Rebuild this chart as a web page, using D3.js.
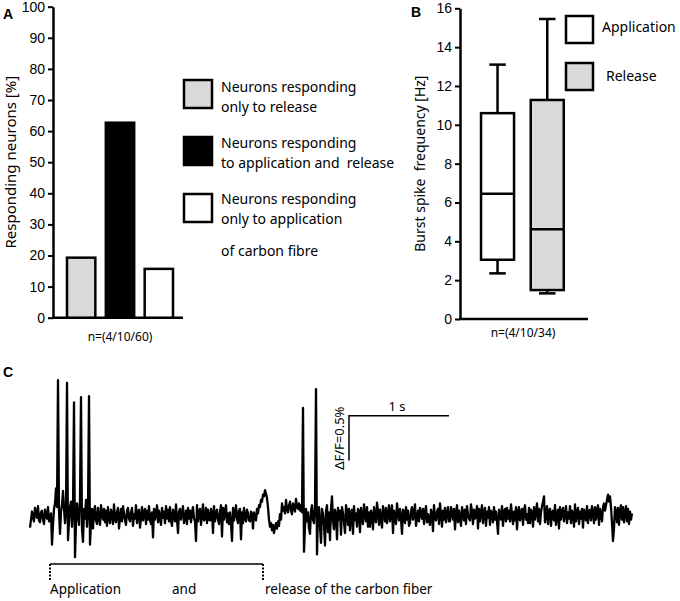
<!DOCTYPE html>
<html>
<head>
<meta charset="utf-8">
<script src="https://cdn.jsdelivr.net/npm/d3@7"></script>
<style>
  body { margin: 0; background: #fff; }
  svg { display: block; }
  .lbl { font-family: "Noto Sans", sans-serif; fill: #000; white-space: pre; }
  .tick text { font-family: "Liberation Sans", Arial, sans-serif; font-size: 14px; fill: #000; }
  .panel { font-family: "Liberation Sans", Arial, sans-serif; font-weight: bold; font-size: 14px; }
</style>
</head>
<body>
<script>
  // Panel A: share of responding neurons
  const groupsA = ['release', 'both', 'application'];
  const percentA = [19.3, 62.7, 15.7];
  const fillsA = ['#d9d9d9', '#000000', '#ffffff'];
  const legendA = [
    ['Neurons responding', 'only to release'],
    ['Neurons responding', 'to application and  release'],
    ['Neurons responding', 'only to application']
  ];
  const ticksA = d3.range(0, 101, 10);

  // Panel B: burst spike frequency boxes (Hz)
  const groupsB = ['Application', 'Release'];
  const fillsB = ['#ffffff', '#d9d9d9'];
  const whiskerLowB = [2.35, 1.32];
  const q1B = [3.05, 1.49];
  const medianB = [6.45, 4.62];
  const q3B = [10.6, 11.28];
  const whiskerHighB = [13.1, 15.45];
  const ticksB = d3.range(0, 17, 2);

  // Panel C: calcium trace, dF/F in 0.01 % steps, sampled every 0.01 s
  const sampleStep = 0.01;
  const trace = [
    -13, -4, 5, -2, -6, 9, 3, -2, 11, -5, -7, 4, 6, -4, -9, 7, 2, -3, 10, -6,
    -4, 3, -32, -10, 8, 14, 31, 10, 152, 6, -20, 5, 12, 28, 9, -8, 4, 149, -27, -6,
    10, 16, -12, 6, 127, -46, -8, 14, 3, -10, 18, 133, -15, -29, 8, -3, 18, -12, 5, 134,
    -32, -6, 8, -14, 4, 11, -5, -9, 9, -2, -10, 12, 3, -4, 8, -7, 6, -11, 10, -3,
    -8, 7, 2, -9, 13, -4, -7, 5, 9, -14, -2, 8, -6, 11, 3, -5, -10, 6, 9, -3,
    -6, 4, 9, -11, 2, -3, 12, -8, 5, 7, -13, -2, 10, -5, 3, 8, -9, 6, -4, 11,
    -5, -9, 4, -24, 8, -4, 2, 12, -7, 6, -3, -10, 9, -2, 5, -8, 11, -3, 7, -6,
    10, -5, -11, 7, 2, -6, 13, -4, -19, 5, 8, -4, 3, 11, -8, -2, 6, -9, 9, -3,
    6, -7, 4, 10, -3, -6, -28, 12, -6, 5, 8, -10, 2, 13, -5, -3, 9, -8, 7, -4,
    -5, 8, 3, -19, 11, -6, 2, 7, -4, -9, 5, 12, -23, 9, -4, 6, 12, -7, 3, -9,
    4, -9, -28, 9, -5, 3, 12, -3, -8, 6, 8, -26, 4, -8, 9, -2, -6, 7, 3, -5,
    -6, 5, 2, -14, 4, -2, -5, 8, 3, 12, 10, 18, 16, 24, 22, 29, 25, 20, 10, -4,
    -12, -8, -16, -10, -19, -13, -8, -14, -6, -11, 2, -4, 14, 6, 10, 3, 18, 8, 4, 12,
    16, 6, 2, 14, 9, 5, 19, 11, 8, 14, 6, 12, 4, 121, -40, -12, 8, -6, 4, -14,
    -20, 6, 12, -4, -8, 10, 142, -43, 4, 10, -12, -30, 8, 2, -10, -33, 6, 12, -18, 4,
    -27, 8, 22, -6, -15, 7, 2, -26, 9, -4, 6, -21, 10, 3, -7, -19, 12, 5, -10, 8,
    -16, 4, 7, -20, 11, -5, 3, -12, 8, 5, -18, 9, -3, -9, 13, 2, -6, 10, -12, 4,
    -12, 6, 2, -15, 10, -4, -7, 15, 5, -10, 7, -3, -13, 11, 4, -6, 9, -8, 2, 12,
    -6, 3, 12, -19, 6, -2, -9, 14, 4, -5, 8, -3, -20, 7, 5, -8, 10, -4, 6, -11,
    -8, 5, 10, -4, 2, 13, -11, -3, 6, -6, 9, 3, -3, 8, -9, 4, 11, -7, 2, -5,
    -10, 7, 3, -17, 12, -2, -5, 5, 8, -9, 14, 2, -12, 6, -4, 9, -7, 3, 10, -6,
    -6, 10, 4, -4, 8, -15, 3, 12, -7, 6, -2, -11, 10, 4, -5, 7, -9, 11, 2, -3,
    -5, 13, 5, -9, 7, -3, 2, 11, -14, 8, -6, 4, 12, -8, 3, 9, -11, 5, -2, 10,
    -10, 6, 3, -7, 10, -4, 5, -6, -20, 7, 2, -4, 11, -11, 4, 8, -6, 9, -3, 6,
    -6, 13, 2, -9, 5, -5, 10, -15, 4, 10, -5, 3, 8, -10, 6, 12, -4, 2, -8, 9,
    -8, 7, 3, -12, 10, -4, 5, 14, -6, 8, -9, 4, 11, 16, 22, -7, 3, 11, -9, 6,
    8, -11, 4, 6, -5, 12, -10, 3, 7, -14, 10, -4, 5, 9, -6, 2, 11, -8, 4, -3,
    11, -8, 6, 2, -12, 13, -6, 4, 9, -9, 5, -3, 8, -13, 7, 2, -5, 11, -8, 6,
    7, -5, 11, 3, -8, 10, -4, 6, 12, -10, 8, 2, -6, 10, 14, 6, 12, 18, 24, 16,
    22, 10, -8, -28, -14, 10, 4, -7, 9, -10, 6, 12, -4, 10, -7, 3, 11, -6, 8, -9,
    5, -4, 3
  ];
  const bracketTimes = [0.2, 2.33];
  const bracketWords = ['Application', 'and', 'release of the carbon fiber'];
  const bracketWordTimes = [0.2, 1.42, 2.35];
  const scaleBarTime = 1;      // s
  const scaleBarDff = 0.5;     // %
  const scaleBarAt = [3.19, 0.62];

  const width = 680;
  const height = 601;

  const svg = d3.select('body')
          .append('svg')
          .attr('width', width)
          .attr('height', height);

  svg.append('rect').attr('width', width).attr('height', height).attr('fill', '#fff');

  // ---------- A ----------
  const yA = d3.scaleLinear().domain([0, 100]).range([317.7, 6.7]);
  const xA = d3.scaleBand().domain(groupsA).range([60, 180]).paddingInner(0.27).paddingOuter(0.18);

  const gA = svg.append('g');
  gA.append('g')
          .attr('transform', 'translate(53,0)')
          .call(d3.axisLeft(yA).tickValues(ticksA).tickSize(5).tickPadding(3).tickSizeOuter(0))
          .call(g => g.selectAll('line').attr('stroke-width', 2))
          .call(g => g.select('.domain').attr('stroke-width', 2.5));
  gA.append('line')
          .attr('x1', 52).attr('x2', 183)
          .attr('y1', yA(0)).attr('y2', yA(0))
          .attr('stroke', '#000').attr('stroke-width', 2.5);

  gA.selectAll('rect.bar')
          .data(groupsA)
          .enter()
          .append('rect')
          .attr('class', 'bar')
          .attr('x', d => xA(d))
          .attr('width', xA.bandwidth())
          .attr('y', (d, i) => yA(percentA[i]))
          .attr('height', (d, i) => yA(0) - yA(percentA[i]))
          .attr('fill', (d, i) => fillsA[i])
          .attr('stroke', '#000')
          .attr('stroke-width', 2.5);

  gA.append('text').attr('class', 'lbl')
          .attr('transform', `translate(16,${(yA(0) + yA(100)) / 2}) rotate(-90)`)
          .attr('text-anchor', 'middle')
          .attr('font-size', 15)
          .text('Responding neurons [%]');

  gA.append('text').attr('class', 'lbl')
          .attr('x', 120).attr('y', 341)
          .attr('text-anchor', 'middle')
          .attr('font-size', 12)
          .text('n=(4/10/60)');

  svg.append('text').attr('class', 'panel').attr('x', 3).attr('y', 19).text('A');

  const legA = svg.append('g');
  legA.selectAll('rect')
          .data(groupsA)
          .enter()
          .append('rect')
          .attr('x', 184)
          .attr('y', (d, i) => 80 + i * 57)
          .attr('width', 28)
          .attr('height', 28)
          .attr('fill', (d, i) => fillsA[i])
          .attr('stroke', '#000')
          .attr('stroke-width', 2.5);
  legA.selectAll('text')
          .data(legendA)
          .enter()
          .append('text')
          .attr('class', 'lbl')
          .attr('font-size', 14)
          .attr('x', 221)
          .attr('y', (d, i) => 92 + i * 56)
          .selectAll('tspan')
          .data(d => d)
          .enter()
          .append('tspan')
          .attr('x', 221)
          .attr('dy', (d, i) => i ? 20 : 0)
          .text(d => d);
  legA.append('text').attr('class', 'lbl')
          .attr('font-size', 14)
          .attr('x', 221).attr('y', 256)
          .text('of carbon fibre');

  // ---------- B ----------
  const yB = d3.scaleLinear().domain([0, 16]).range([319, 8.3]);
  const xB = d3.scaleBand().domain(groupsB).range([468.6, 576.2]).paddingInner(0.336).paddingOuter(0.25);

  const gB = svg.append('g');
  gB.append('g')
          .attr('transform', 'translate(460,0)')
          .call(d3.axisLeft(yB).tickValues(ticksB).tickSize(5).tickPadding(3).tickSizeOuter(0))
          .call(g => g.selectAll('line').attr('stroke-width', 2))
          .call(g => g.select('.domain').attr('stroke-width', 2.5));
  gB.append('line')
          .attr('x1', 459).attr('x2', 588)
          .attr('y1', yB(0)).attr('y2', yB(0))
          .attr('stroke', '#000').attr('stroke-width', 2.5);

  const box = gB.selectAll('g.box')
          .data(groupsB)
          .enter()
          .append('g')
          .attr('class', 'box');
  const cx = d => xB(d) + xB.bandwidth() / 2;
  const capHalf = xB.bandwidth() / 4;

  box.append('line')
          .attr('x1', cx).attr('x2', cx)
          .attr('y1', (d, i) => yB(whiskerHighB[i]))
          .attr('y2', (d, i) => yB(whiskerLowB[i]))
          .attr('stroke', '#000').attr('stroke-width', 2.5);
  [whiskerLowB, whiskerHighB].forEach(arr => {
    box.append('line')
            .attr('x1', d => cx(d) - capHalf).attr('x2', d => cx(d) + capHalf)
            .attr('y1', (d, i) => yB(arr[i])).attr('y2', (d, i) => yB(arr[i]))
            .attr('stroke', '#000').attr('stroke-width', 2.5);
  });
  box.append('rect')
          .attr('x', d => xB(d))
          .attr('width', xB.bandwidth())
          .attr('y', (d, i) => yB(q3B[i]))
          .attr('height', (d, i) => yB(q1B[i]) - yB(q3B[i]))
          .attr('fill', (d, i) => fillsB[i])
          .attr('stroke', '#000').attr('stroke-width', 2.5);
  box.append('line')
          .attr('x1', d => xB(d)).attr('x2', d => xB(d) + xB.bandwidth())
          .attr('y1', (d, i) => yB(medianB[i])).attr('y2', (d, i) => yB(medianB[i]))
          .attr('stroke', '#000').attr('stroke-width', 2.5);

  gB.append('text').attr('class', 'lbl')
          .attr('transform', `translate(425,${(yB(0) + yB(16)) / 2}) rotate(-90)`)
          .attr('text-anchor', 'middle')
          .attr('font-size', 14)
          .text('Burst spike  frequency [Hz]');
  gB.append('text').attr('class', 'lbl')
          .attr('x', 523).attr('y', 337)
          .attr('text-anchor', 'middle')
          .attr('font-size', 12)
          .text('n=(4/10/34)');

  svg.append('text').attr('class', 'panel').attr('x', 411).attr('y', 17).text('B');

  const legB = svg.append('g');
  legB.selectAll('rect')
          .data(groupsB)
          .enter()
          .append('rect')
          .attr('x', 566)
          .attr('y', (d, i) => 16 + i * 47)
          .attr('width', 27)
          .attr('height', 27)
          .attr('fill', (d, i) => fillsB[i])
          .attr('stroke', '#000').attr('stroke-width', 2.5);
  legB.selectAll('text')
          .data(groupsB)
          .enter()
          .append('text')
          .attr('class', 'lbl')
          .attr('font-size', 14)
          .attr('x', (d, i) => i ? 606 : 602)
          .attr('y', (d, i) => 32 + i * 49)
          .text(d => d);

  // ---------- C ----------
  const xC = d3.scaleLinear().domain([0, (trace.length - 1) * sampleStep]).range([30, 632]);
  const yC = d3.scaleLinear().domain([0, 1]).range([516, 426.6]);

  svg.append('text').attr('class', 'panel').attr('x', 3).attr('y', 377).text('C');

  svg.append('path')
          .datum(trace)
          .attr('d', d3.line().x((d, i) => xC(i * sampleStep)).y(d => yC(d / 100)))
          .attr('fill', 'none')
          .attr('stroke', '#000')
          .attr('stroke-width', 2.3)
          .attr('stroke-linejoin', 'round');

  // scale bars
  const sb = svg.append('g').attr('stroke', '#000').attr('stroke-width', 1.5).attr('fill', 'none');
  sb.append('path')
          .attr('d', `M${xC(scaleBarAt[0])},${yC(scaleBarAt[1])}V${yC(scaleBarAt[1] + scaleBarDff)}H${xC(scaleBarAt[0] + scaleBarTime)}`);
  svg.append('text').attr('class', 'lbl')
          .attr('x', (xC(scaleBarAt[0]) + xC(scaleBarAt[0] + scaleBarTime)) / 2 - 2)
          .attr('y', yC(scaleBarAt[1] + scaleBarDff) - 5)
          .attr('text-anchor', 'middle')
          .attr('font-size', 13)
          .text('1 s');
  svg.append('text').attr('class', 'lbl')
          .attr('transform', `translate(${xC(scaleBarAt[0]) - 5},${yC(scaleBarAt[1] + scaleBarDff / 2)}) rotate(-90)`)
          .attr('text-anchor', 'middle')
          .attr('font-size', 13)
          .text('ΔF/F=0.5%');

  // application / release bracket
  const yBr = 564;
  svg.append('line')
          .attr('x1', xC(bracketTimes[0])).attr('x2', xC(bracketTimes[1]))
          .attr('y1', yBr).attr('y2', yBr)
          .attr('stroke', '#000').attr('stroke-width', 1.5);
  svg.selectAll('line.tickmark')
          .data(bracketTimes)
          .enter()
          .append('line')
          .attr('class', 'tickmark')
          .attr('x1', d => xC(d)).attr('x2', d => xC(d))
          .attr('y1', yBr).attr('y2', yBr + 17)
          .attr('stroke', '#000').attr('stroke-width', 2)
          .attr('stroke-dasharray', '2,1.5');
  svg.selectAll('text.brw')
          .data(bracketWords)
          .enter()
          .append('text')
          .attr('class', 'lbl brw')
          .attr('font-size', 13.5)
          .attr('x', (d, i) => xC(bracketWordTimes[i]))
          .attr('y', 594)
          .text(d => d);
</script>
</body>
</html>
